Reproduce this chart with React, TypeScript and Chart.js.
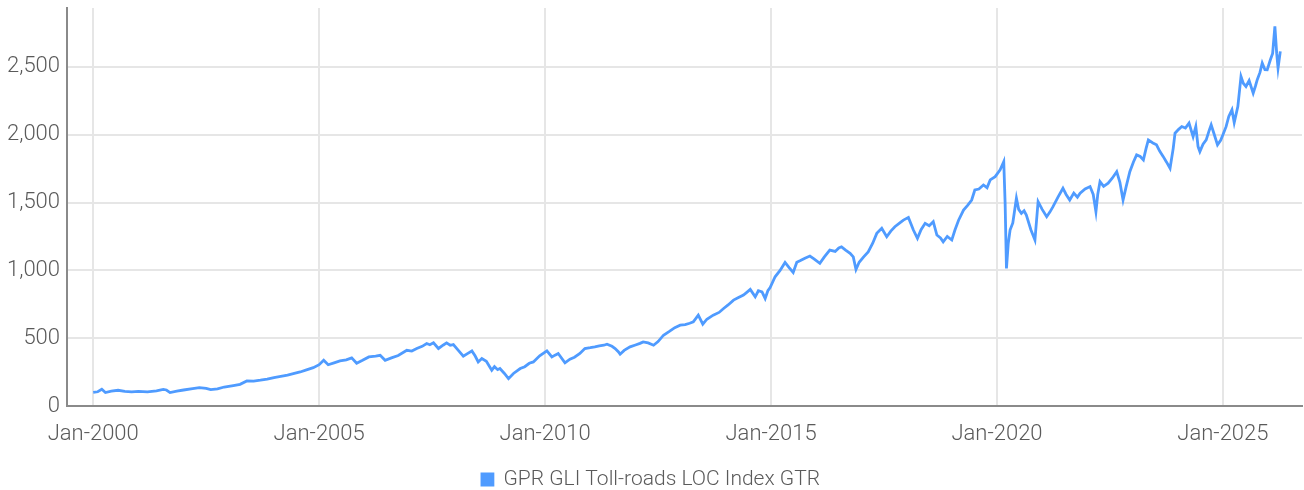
import React, { useEffect, useRef } from "react";
import { Chart, registerables } from "chart.js";

Chart.register(...registerables);

// Decimal-year dates and index values
const years = [
  2000.0, 2000.1, 2000.19, 2000.27, 2000.4, 2000.55, 2000.7, 2000.85, 2001.0, 2001.2, 2001.4, 2001.55, 2001.62, 2001.7, 2001.85,
  2002.0, 2002.2, 2002.35, 2002.5, 2002.6, 2002.75, 2002.9, 2003.1, 2003.25, 2003.4, 2003.55, 2003.7, 2003.85,
  2004.0, 2004.15, 2004.3, 2004.45, 2004.58, 2004.72, 2004.87, 2005.0, 2005.1, 2005.2, 2005.33, 2005.46, 2005.6, 2005.72, 2005.83, 2005.95,
  2006.1, 2006.25, 2006.35, 2006.46, 2006.6, 2006.75, 2006.94, 2007.05, 2007.16, 2007.28, 2007.38, 2007.45, 2007.53, 2007.64, 2007.75, 2007.82, 2007.9, 2007.97,
  2008.08, 2008.19, 2008.3, 2008.38, 2008.45, 2008.52, 2008.6, 2008.7, 2008.82, 2008.88, 2008.95, 2009.0, 2009.1, 2009.19, 2009.3, 2009.45, 2009.55, 2009.65, 2009.74, 2009.88,
  2010.04, 2010.15, 2010.22, 2010.29, 2010.44, 2010.55, 2010.65, 2010.77, 2010.88, 2011.0, 2011.1, 2011.2, 2011.3, 2011.37, 2011.48, 2011.55, 2011.62, 2011.66, 2011.75, 2011.88,
  2012.0, 2012.1, 2012.17, 2012.28, 2012.4, 2012.5, 2012.62, 2012.75, 2012.87, 2012.99, 2013.1, 2013.2, 2013.28, 2013.39, 2013.49, 2013.58, 2013.72, 2013.85, 2013.95,
  2014.05, 2014.17, 2014.28, 2014.39, 2014.47, 2014.54, 2014.65, 2014.72, 2014.8, 2014.87, 2014.93, 2014.98, 2015.09, 2015.2, 2015.31, 2015.4, 2015.49, 2015.57, 2015.64, 2015.75, 2015.86, 2015.95,
  2016.08, 2016.18, 2016.3, 2016.42, 2016.5, 2016.56, 2016.65, 2016.75, 2016.82, 2016.88, 2016.95, 2017.05, 2017.15, 2017.25, 2017.34, 2017.45, 2017.56, 2017.65, 2017.74, 2017.85, 2017.93,
  2018.04, 2018.1, 2018.15, 2018.24, 2018.32, 2018.41, 2018.5, 2018.59, 2018.67, 2018.75, 2018.81, 2018.9, 2019.0, 2019.07, 2019.15, 2019.26, 2019.35, 2019.44, 2019.51, 2019.6, 2019.7, 2019.78, 2019.85, 2019.96,
  2020.07, 2020.15, 2020.18, 2020.21, 2020.25, 2020.29, 2020.35, 2020.43, 2020.48, 2020.54, 2020.6, 2020.65, 2020.75, 2020.84, 2020.91, 2021.0, 2021.1, 2021.17, 2021.24, 2021.35, 2021.46, 2021.53, 2021.61, 2021.7, 2021.78, 2021.84, 2021.95,
  2022.06, 2022.13, 2022.19, 2022.23, 2022.28, 2022.36, 2022.46, 2022.55, 2022.65, 2022.72, 2022.79, 2022.86, 2022.94, 2023.02, 2023.09, 2023.17, 2023.24, 2023.3, 2023.35, 2023.45, 2023.53, 2023.6, 2023.68, 2023.75, 2023.83, 2023.9, 2023.94,
  2024.02, 2024.09, 2024.17, 2024.25, 2024.34, 2024.4, 2024.45, 2024.49, 2024.56, 2024.63, 2024.7, 2024.74, 2024.81, 2024.88, 2024.95, 2025.0, 2025.07, 2025.13, 2025.2, 2025.25, 2025.33, 2025.4, 2025.45, 2025.51, 2025.58, 2025.67, 2025.72, 2025.76, 2025.82, 2025.87, 2025.93, 2025.98,
  2026.05, 2026.1, 2026.15, 2026.19, 2026.22, 2026.27,
];

const values = [
  100, 105, 123, 99, 110, 116, 108, 104, 108, 104, 112, 123, 118, 99, 110,
  118, 128, 136, 130, 121, 126, 140, 151, 160, 185, 184, 190, 198,
  210, 218, 227, 240, 251, 266, 283, 305, 337, 304, 318, 332, 340, 355, 315, 335,
  362, 368, 374, 337, 355, 372, 411, 405, 424, 440, 461, 452, 466, 424, 450, 465, 448, 453,
  410, 367, 390, 406, 370, 325, 350, 330, 264, 290, 268, 276, 240, 202, 240, 276, 290, 315, 325, 370,
  406, 362, 375, 387, 318, 345, 360, 387, 424, 430, 436, 443, 448, 456, 440, 424, 400, 382, 410, 436,
  450, 462, 473, 465, 448, 475, 522, 550, 578, 596, 600, 610, 620, 670, 603, 640, 670, 690, 719,
  745, 781, 800, 818, 840, 860, 805, 850, 842, 793, 850, 874, 953, 1000, 1059, 1020, 985, 1060, 1071, 1090, 1106, 1085,
  1052, 1100, 1150, 1140, 1165, 1174, 1150, 1126, 1100, 1007, 1060, 1100, 1137, 1200, 1273, 1310, 1248, 1290, 1322, 1350, 1371,
  1391, 1340, 1298, 1236, 1300, 1347, 1330, 1359, 1261, 1240, 1211, 1250, 1224, 1298, 1370, 1445, 1480, 1519, 1593, 1600, 1630, 1610, 1667, 1691,
  1741, 1802, 1500, 1015, 1200, 1298, 1350, 1532, 1450, 1421, 1440, 1408, 1300, 1224, 1507, 1450, 1396, 1430, 1470, 1540, 1606, 1560, 1519, 1570, 1540, 1569, 1600,
  1618, 1560, 1433, 1560, 1655, 1620, 1643, 1680, 1728, 1650, 1519, 1620, 1728, 1800, 1852, 1840, 1815, 1900, 1962, 1940, 1926, 1880, 1839, 1800, 1753, 1900, 2012,
  2040, 2061, 2050, 2086, 1987, 2061, 1913, 1876, 1930, 1962, 2036, 2073, 2000, 1926, 1960, 2000, 2060, 2135, 2184, 2090, 2208, 2430, 2380, 2356, 2400, 2307, 2360, 2406, 2460, 2529, 2480, 2479,
  2553, 2600, 2800, 2600, 2492, 2615,
];

const tickYears = [2000, 2005, 2010, 2015, 2020, 2025];
const yTicks = [0, 500, 1000, 1500, 2000, 2500];
const seriesLabel = "GPR GLI Toll-roads LOC Index GTR";

const FONT = "Roboto, 'Liberation Sans', sans-serif";
const TEXT = "#5a5a5a";
const LINE = "#4f9bff";

export default function App() {
  const ref = useRef<HTMLCanvasElement | null>(null);

  useEffect(() => {
    document.body.style.margin = "0";
    const ctx = ref.current;
    if (!ctx) return;
    const chart = new Chart(ctx, {
      type: "line",
      data: {
        datasets: [
          {
            label: seriesLabel,
            data: years.map((x, i) => ({ x, y: values[i] })),
            borderColor: LINE,
            backgroundColor: LINE,
            borderWidth: 2.8,
            pointRadius: 0,
            tension: 0,
          },
        ],
      },
      options: {
        animation: false,
        responsive: false,
        layout: { padding: { left: 0, right: 2, top: 8, bottom: -10 } },
        plugins: {
          tooltip: { enabled: false },
          legend: {
            position: "bottom",
            labels: {
              color: TEXT,
              font: { family: FONT, size: 21, weight: 300 },
              boxWidth: 11,
              boxHeight: 11,
              padding: 0,
            },
          },
        },
        scales: {
          x: {
            type: "linear",
            min: 1999.42,
            max: 2026.75,
            grid: { color: "#e6e6e6", lineWidth: 2, drawTicks: false },
            border: { color: "#8a8a8a", width: 2 },
            afterBuildTicks: (scale: any) => {
              scale.ticks = tickYears.map((v) => ({ value: v }));
            },
            afterFit: (scale: any) => {
              scale.height = 63;
              scale.paddingLeft = 0;
              scale.paddingRight = 0;
            },
            ticks: {
              color: TEXT,
              font: { family: FONT, size: 22, weight: 300 },
              padding: 15,
              maxRotation: 0,
              autoSkip: false,
              callback: (v: any) => "Jan-" + v,
            },
          },
          y: {
            min: 0,
            max: 2935,
            grid: { color: "#e6e6e6", lineWidth: 2, drawTicks: false },
            border: { color: "#8a8a8a", width: 2 },
            afterBuildTicks: (scale: any) => {
              scale.ticks = yTicks.map((v) => ({ value: v }));
            },
            afterFit: (scale: any) => {
              scale.width = 67;
              scale.paddingTop = 0;
              scale.paddingBottom = 0;
            },
            ticks: {
              color: TEXT,
              font: { family: FONT, size: 22, weight: 300 },
              padding: 7,
              callback: (v: any) => Number(v).toLocaleString("en-US"),
            },
          },
        },
      },
    });
    return () => chart.destroy();
  }, []);

  return (
    <div style={{ width: 1304, height: 490 }}>
      <canvas ref={ref} width={1304} height={490} style={{ display: "block" }} />
    </div>
  );
}
